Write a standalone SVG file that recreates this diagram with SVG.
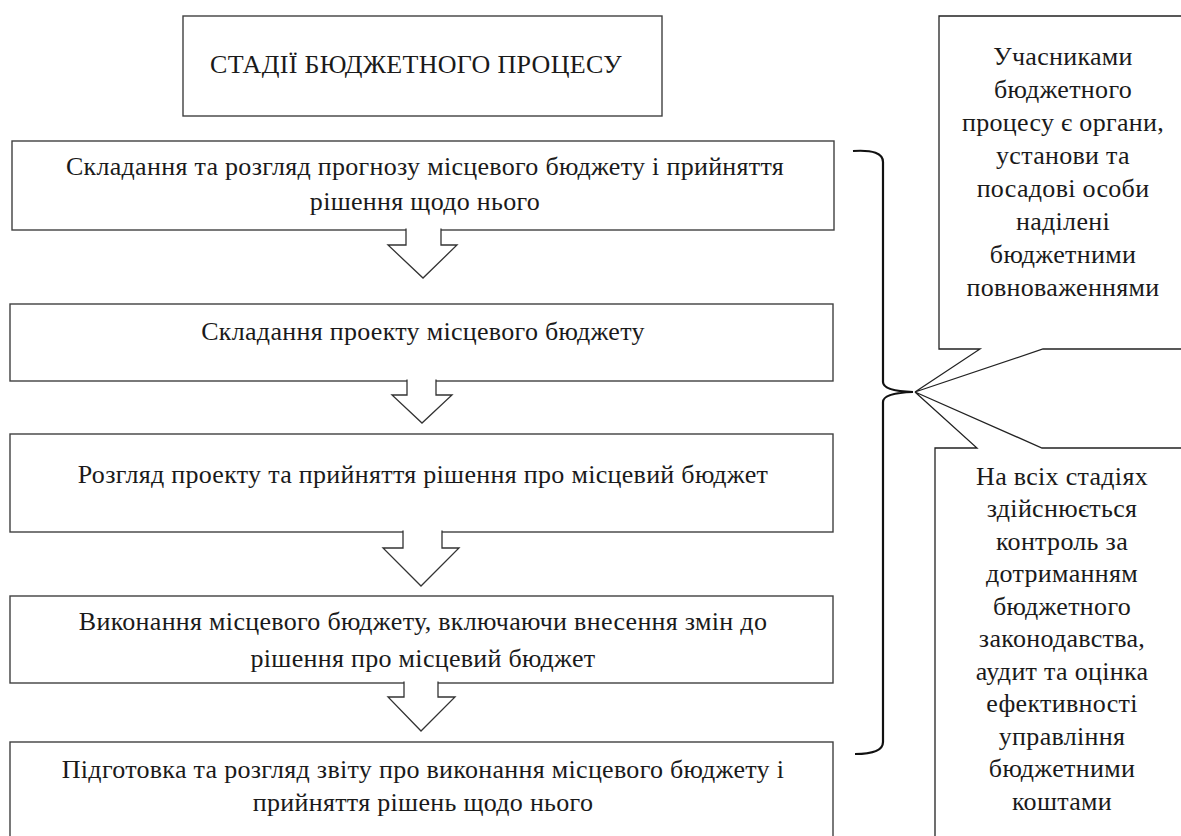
<svg xmlns="http://www.w3.org/2000/svg" width="1181" height="836" viewBox="0 0 1181 836">
<style>
.box{fill:#fff;stroke:#404040;stroke-width:1.4}
.arr{fill:#fff;stroke:#333;stroke-width:1.3}
.t{font-family:"Liberation Serif","Times New Roman",serif;font-size:26px;letter-spacing:0.3px;fill:#1a1a1a;text-anchor:middle}
.brace{fill:none;stroke:#111;stroke-width:2.2}
.co{fill:#fff;stroke:#222;stroke-width:1.3}
</style>
<rect width="1181" height="836" fill="#fff"/>
<g id="title">
<rect class="box" x="183" y="16" width="479" height="100"/>
<text class="t" x="416" y="73">СТАДІЇ БЮДЖЕТНОГО ПРОЦЕСУ</text>
</g>
<g id="stage1">
<rect class="box" x="12" y="141" width="822" height="89"/>
<text class="t" x="425" y="175">Складання та розгляд прогнозу місцевого бюджету і прийняття</text>
<text class="t" x="425" y="210">рішення щодо нього</text>
</g>
<g id="stage2">
<rect class="box" x="10" y="304" width="823" height="77"/>
<text class="t" x="423" y="340">Складання проекту місцевого бюджету</text>
</g>
<g id="stage3">
<rect class="box" x="10" y="434" width="823" height="98"/>
<text class="t" x="423" y="483">Розгляд проекту та прийняття рішення про місцевий бюджет</text>
</g>
<g id="stage4">
<rect class="box" x="10" y="596" width="823" height="87"/>
<text class="t" x="423" y="630">Виконання місцевого бюджету, включаючи внесення змін до</text>
<text class="t" x="423" y="667">рішення про місцевий бюджет</text>
</g>
<g id="stage5">
<rect class="box" x="10" y="742" width="823" height="110"/>
<text class="t" x="423" y="778">Підготовка та розгляд звіту про виконання місцевого бюджету і</text>
<text class="t" x="423" y="811">прийняття рішень щодо нього</text>
</g>
<g id="connectors">
<path class="arr" d="M406,228.5 L406,245 L388,245 L423,278 L457,245 L441,245 L441,228.5"/>
<path class="arr" d="M407,379.5 L407,395 L392,395 L422,423 L452,395 L436,395 L436,379.5"/>
<path class="arr" d="M403,530.5 L403,548 L383,548 L421,586 L459,548 L442,548 L442,530.5"/>
<path class="arr" d="M404,681.5 L404,697 L388,697 L421,731 L455,697 L438,697 L438,681.5"/>
<path class="brace" d="M853,151 Q883,149 883,162 L883,382 Q883,391 913,392 Q883,393 883,402 L883,742 Q883,754 855,754"/>
</g>
<g id="note1">
<path class="co" d="M1190,16 L939,16 L939,349 L980,349 L915,392 L1043,349 L1190,349"/>
<text class="t" x="1063" y="65">Учасниками</text>
<text class="t" x="1063" y="98">бюджетного</text>
<text class="t" x="1063" y="131">процесу є органи,</text>
<text class="t" x="1063" y="164">установи та</text>
<text class="t" x="1063" y="197">посадові особи</text>
<text class="t" x="1063" y="230">наділені</text>
<text class="t" x="1063" y="263">бюджетними</text>
<text class="t" x="1063" y="296">повноваженнями</text>
</g>
<g id="note2">
<path class="co" d="M1190,448 L1042,448 L915,392 L977,448 L935,448 L935,845"/>
<text class="t" x="1062" y="485">На всіх стадіях</text>
<text class="t" x="1062" y="517">здійснюється</text>
<text class="t" x="1062" y="550">контроль за</text>
<text class="t" x="1062" y="582">дотриманням</text>
<text class="t" x="1062" y="615">бюджетного</text>
<text class="t" x="1062" y="647">законодавства,</text>
<text class="t" x="1062" y="680">аудит та оцінка</text>
<text class="t" x="1062" y="712">ефективності</text>
<text class="t" x="1062" y="745">управління</text>
<text class="t" x="1062" y="777">бюджетними</text>
<text class="t" x="1062" y="810">коштами</text>
</g>
</svg>
